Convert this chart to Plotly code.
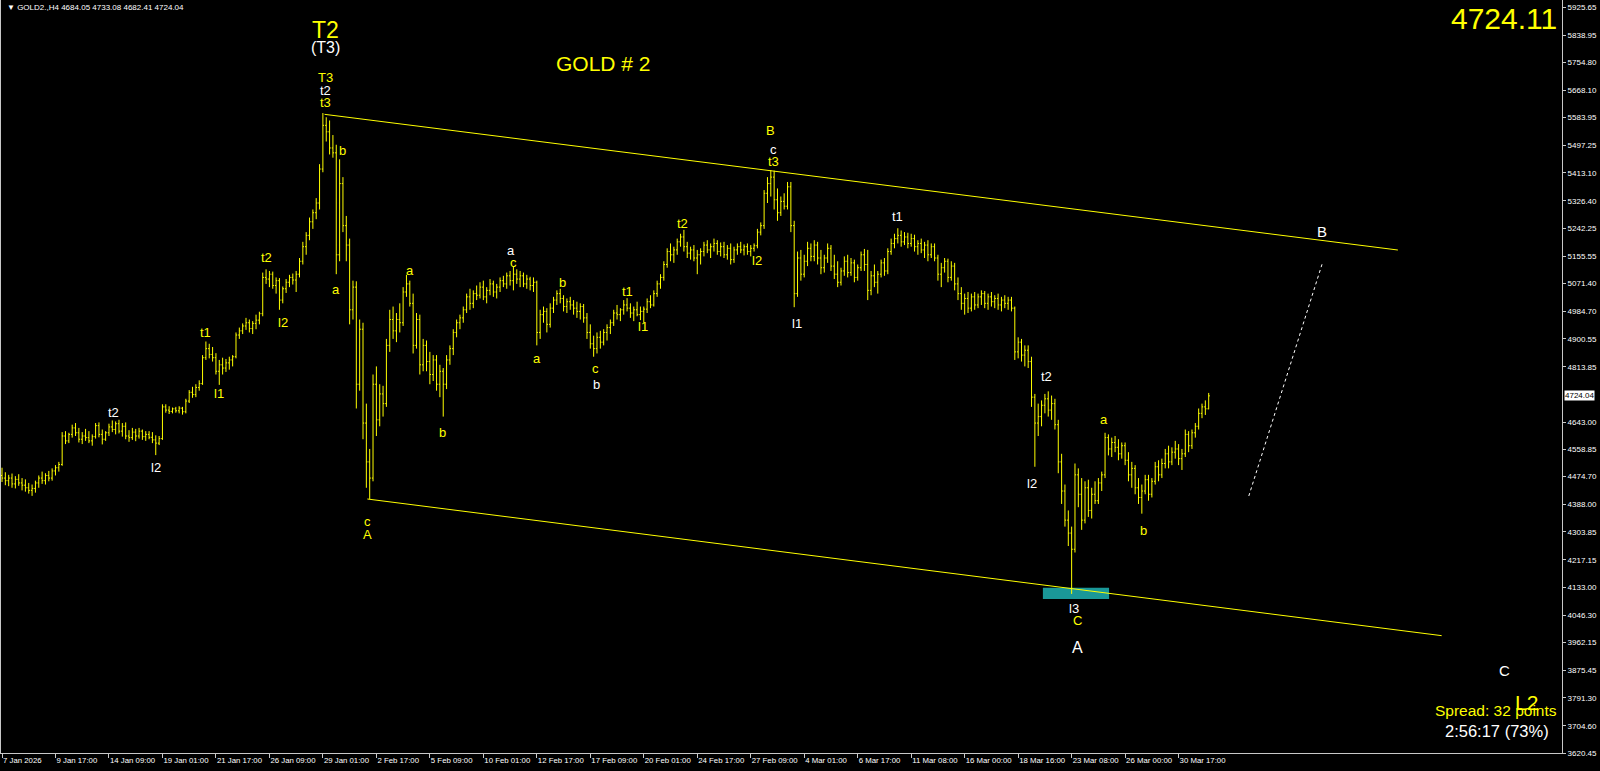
import plotly.graph_objects as go

# ---------------- data (GOLD2., H4) ----------------
opens = [
    4478, 4470, 4462, 4470, 4452, 4466, 4455, 4448, 4440, 4432,
    4438, 4455, 4470, 4462, 4478, 4470, 4492, 4502, 4512, 4600,
    4585, 4605, 4625, 4610, 4590, 4600, 4595, 4585, 4598, 4632,
    4605, 4590, 4610, 4628, 4620, 4638, 4615, 4630, 4600, 4595,
    4612, 4600, 4615, 4598, 4605, 4596, 4588, 4578, 4592, 4690,
    4680, 4676, 4684, 4678, 4686, 4675, 4708, 4735, 4728, 4750,
    4762, 4842, 4870, 4852, 4842, 4800, 4820, 4810, 4826, 4835,
    4845, 4912, 4925, 4940, 4950, 4932, 4948, 4958, 4978, 5090,
    5085, 5100, 5065, 5080, 5020, 5055, 5075, 5090, 5082, 5100,
    5140, 5185, 5220, 5262, 5290, 5320, 5425, 5560, 5540, 5490,
    5475, 5160, 5380, 5250, 5190, 4990, 5060, 4760, 4930, 4640,
    4520, 4470, 4760, 4650, 4730, 4700, 4880, 4960, 4925, 4960,
    4950, 5045, 5070, 5010, 4880, 4960, 4820, 4880, 4830, 4790,
    4835, 4760, 4800, 4760, 4835, 4870, 4920, 4950, 4965, 4990,
    5030, 5010, 5040, 5035, 5060, 5030, 5050, 5070, 5045, 5060,
    5080, 5070, 5095, 5080, 5100, 5085, 5095, 5070, 5085, 5065,
    5075, 4920, 4975, 4985, 4945, 4995, 5020, 5040, 5025, 5000,
    5015, 5005, 4995, 4985, 5000, 4965, 4920, 4885, 4870, 4905,
    4890, 4920, 4935, 4950, 4980, 4975, 4990, 5005, 4995, 4980,
    4990, 4975, 4985, 4992, 5015, 5005, 5040, 5070, 5090, 5130,
    5170, 5160, 5175, 5200, 5215, 5185, 5165, 5175, 5150, 5160,
    5170, 5190, 5175, 5185, 5195, 5170, 5185, 5160, 5180, 5145,
    5175, 5185, 5175, 5185, 5170, 5180, 5188, 5230, 5250, 5350,
    5380, 5400, 5330, 5290, 5325, 5310, 5370, 5250, 5040, 5150,
    5100, 5140, 5180, 5155, 5190, 5150, 5120, 5150, 5180, 5125,
    5100, 5075, 5110, 5140, 5105, 5135, 5090, 5120, 5160, 5130,
    5050, 5095, 5075, 5100, 5135, 5110, 5170, 5195, 5210, 5220,
    5200, 5215, 5195, 5210, 5185, 5195, 5175, 5190, 5160, 5185,
    5150, 5100, 5120, 5140, 5090, 5125, 5070, 5040, 5010, 5025,
    4995, 5030, 5005, 5030, 5040, 5010, 5030, 5015, 5025, 5005,
    5020, 5010, 5020, 4995, 4860, 4890, 4850, 4865, 4830, 4720,
    4640, 4660, 4695, 4715, 4680, 4700, 4635, 4520, 4430, 4340,
    4300, 4250, 4480, 4420, 4340, 4440, 4370, 4420, 4400, 4455,
    4480, 4595, 4560, 4580, 4565, 4545, 4570, 4525, 4480, 4500,
    4440, 4410, 4430, 4465, 4420, 4460, 4505, 4480, 4515, 4545,
    4520, 4550, 4560, 4530, 4545, 4605, 4570, 4610, 4630, 4670,
    4690, 4684.05,
]
highs = [
    4502, 4488, 4480, 4484, 4476, 4482, 4470, 4466, 4455, 4450,
    4462, 4478, 4490, 4485, 4492, 4500, 4510, 4520, 4612, 4615,
    4610, 4635, 4640, 4625, 4612, 4622, 4615, 4605, 4640, 4642,
    4620, 4615, 4638, 4648, 4645, 4650, 4640, 4642, 4618, 4625,
    4622, 4625, 4620, 4615, 4615, 4612, 4602, 4600, 4698, 4698,
    4692, 4688, 4690, 4692, 4690, 4715, 4742, 4752, 4760, 4772,
    4850, 4892, 4885, 4875, 4856, 4835, 4842, 4838, 4845, 4850,
    4920, 4935, 4948, 4965, 4960, 4955, 4975, 4984, 5105, 5115,
    5110, 5108, 5090, 5088, 5062, 5085, 5098, 5102, 5110, 5150,
    5200, 5230, 5275, 5300, 5335, 5440, 5598, 5585, 5575, 5530,
    5500, 5455, 5400, 5280, 5210, 5080, 5078, 4960, 4950, 4700,
    4560, 4790, 4815, 4760, 4755, 4900, 4990, 5000, 4980, 5010,
    5060, 5098, 5080, 5040, 4980, 4975, 4900, 4895, 4860, 4850,
    4850, 4820, 4810, 4850, 4880, 4930, 4960, 4975, 5000, 5040,
    5055, 5050, 5065, 5075, 5080, 5060, 5085, 5080, 5070, 5090,
    5095, 5105, 5110, 5124, 5115, 5110, 5105, 5098, 5092, 5090,
    5080, 4990, 5000, 4995, 5010, 5030, 5050, 5055, 5035, 5025,
    5030, 5020, 5015, 5010, 5008, 4980, 4945, 4910, 4920, 4925,
    4930, 4945, 4960, 4990, 5005, 4995, 5020, 5026, 5010, 5000,
    5015, 5000, 5000, 5025, 5035, 5050, 5080, 5100, 5140, 5180,
    5195, 5185, 5210, 5225, 5237, 5200, 5185, 5190, 5175, 5180,
    5200, 5205, 5195, 5210, 5205, 5198, 5200, 5190, 5195, 5185,
    5195, 5200, 5192, 5195, 5190, 5195, 5240, 5260, 5360, 5400,
    5422, 5420, 5365, 5340, 5350, 5385, 5385, 5265, 5170, 5175,
    5160, 5200, 5195, 5205, 5200, 5175, 5160, 5195, 5190, 5160,
    5140, 5120, 5155, 5160, 5150, 5145, 5130, 5170, 5178, 5175,
    5110, 5130, 5110, 5145, 5150, 5180, 5210, 5225, 5242, 5235,
    5230, 5228, 5225, 5222, 5205, 5210, 5200, 5205, 5195, 5195,
    5160, 5135, 5150, 5148, 5140, 5135, 5090, 5060, 5040, 5045,
    5040, 5045, 5040, 5050, 5048, 5040, 5045, 5035, 5040, 5030,
    5035, 5030, 5030, 5000, 4905, 4900, 4880, 4880, 4845, 4730,
    4700, 4710, 4730, 4738, 4725, 4715, 4650, 4545, 4450, 4370,
    4320, 4515, 4500, 4470, 4460, 4465, 4440, 4460, 4470, 4490,
    4610, 4605, 4595, 4600, 4590, 4580, 4580, 4550, 4520, 4510,
    4470, 4450, 4480, 4480, 4470, 4520, 4525, 4530, 4560, 4570,
    4565, 4585, 4575, 4560, 4620, 4615, 4620, 4640, 4685, 4700,
    4710, 4733.08,
]
lows = [
    4458, 4448, 4445, 4440, 4438, 4446, 4432, 4428, 4422, 4415,
    4425, 4440, 4452, 4450, 4460, 4462, 4478, 4490, 4508, 4575,
    4578, 4595, 4600, 4580, 4575, 4585, 4578, 4570, 4592, 4596,
    4574, 4585, 4600, 4612, 4605, 4608, 4598, 4590, 4582, 4588,
    4584, 4592, 4588, 4585, 4590, 4578, 4541, 4572, 4588, 4672,
    4668, 4670, 4672, 4670, 4666, 4670, 4702, 4718, 4720, 4740,
    4758, 4835, 4840, 4830, 4790, 4758, 4790, 4798, 4805, 4815,
    4840, 4900, 4915, 4928, 4920, 4915, 4930, 4945, 4970, 5070,
    5060, 5055, 5040, 4990, 5010, 5042, 5060, 5068, 5045, 5090,
    5130, 5160, 5205, 5240, 5270, 5300, 5415, 5510, 5470, 5460,
    5100, 5140, 5230, 5140, 4945, 4960, 4685, 4740, 4590, 4440,
    4405, 4460, 4600, 4630, 4660, 4690, 4860, 4900, 4890, 4920,
    4940, 5030, 5000, 4855, 4870, 4790, 4800, 4800, 4760, 4770,
    4740, 4720, 4660, 4745, 4820, 4850, 4905, 4930, 4950, 4980,
    4990, 4995, 5020, 5025, 5020, 5010, 5035, 5030, 5025, 5045,
    5060, 5055, 5065, 5050, 5070, 5060, 5060, 5055, 5050, 5045,
    4880, 4900, 4950, 4920, 4935, 4980, 5005, 5010, 4985, 4980,
    4990, 4975, 4965, 4960, 4950, 4900, 4870, 4845, 4855, 4870,
    4880, 4895, 4915, 4940, 4960, 4955, 4975, 4985, 4965, 4955,
    4970, 4958, 4950, 4980, 4995, 5000, 5030, 5055, 5080, 5120,
    5140, 5135, 5160, 5185, 5170, 5150, 5145, 5140, 5100, 5130,
    5155, 5165, 5150, 5170, 5160, 5155, 5150, 5145, 5130, 5135,
    5160, 5165, 5158, 5160, 5155, 5170, 5180, 5220, 5240, 5320,
    5340, 5300, 5265, 5280, 5300, 5300, 5230, 4998, 5030, 5080,
    5090, 5125, 5140, 5140, 5130, 5100, 5105, 5135, 5110, 5085,
    5060, 5065, 5095, 5090, 5095, 5075, 5080, 5110, 5110, 5020,
    5035, 5060, 5040, 5090, 5095, 5100, 5160, 5180, 5195, 5185,
    5190, 5180, 5185, 5170, 5160, 5165, 5150, 5140, 5150, 5140,
    5080, 5060, 5105, 5075, 5080, 5050, 5020, 4990, 4975, 4980,
    4985, 4990, 4995, 5005, 4995, 4990, 5000, 4995, 4990, 4985,
    4995, 4990, 4985, 4835, 4840, 4830, 4815, 4810, 4690, 4505,
    4600, 4630, 4670, 4660, 4650, 4620, 4485, 4390, 4320, 4260,
    4112, 4240, 4380, 4310, 4330, 4350, 4345, 4390, 4390, 4430,
    4470, 4540, 4535, 4550, 4525, 4530, 4510, 4460, 4440, 4420,
    4390, 4360, 4420, 4400, 4410, 4450, 4460, 4470, 4500, 4500,
    4510, 4530, 4510, 4495, 4535, 4550, 4560, 4595, 4620, 4655,
    4665, 4682.41,
]
closes = [
    4470, 4462, 4470, 4452, 4466, 4455, 4448, 4440, 4432, 4438,
    4455, 4470, 4462, 4478, 4470, 4492, 4502, 4512, 4600, 4585,
    4605, 4625, 4610, 4590, 4600, 4595, 4585, 4598, 4632, 4605,
    4590, 4610, 4628, 4620, 4638, 4615, 4630, 4600, 4595, 4612,
    4600, 4615, 4598, 4605, 4596, 4588, 4578, 4592, 4690, 4680,
    4676, 4684, 4678, 4686, 4675, 4708, 4735, 4728, 4750, 4762,
    4842, 4870, 4852, 4842, 4800, 4820, 4810, 4826, 4835, 4845,
    4912, 4925, 4940, 4950, 4932, 4948, 4958, 4978, 5090, 5085,
    5100, 5065, 5080, 5020, 5055, 5075, 5090, 5082, 5100, 5140,
    5185, 5220, 5262, 5290, 5320, 5425, 5560, 5540, 5490, 5475,
    5160, 5380, 5250, 5190, 4990, 5060, 4760, 4930, 4640, 4520,
    4470, 4760, 4650, 4730, 4700, 4880, 4960, 4925, 4960, 4950,
    5045, 5070, 5010, 4880, 4960, 4820, 4880, 4830, 4790, 4835,
    4760, 4800, 4760, 4835, 4870, 4920, 4950, 4965, 4990, 5030,
    5010, 5040, 5035, 5060, 5030, 5050, 5070, 5045, 5060, 5080,
    5070, 5095, 5080, 5100, 5085, 5095, 5070, 5085, 5065, 5075,
    4920, 4975, 4985, 4945, 4995, 5020, 5040, 5025, 5000, 5015,
    5005, 4995, 4985, 5000, 4965, 4920, 4885, 4870, 4905, 4890,
    4920, 4935, 4950, 4980, 4975, 4990, 5005, 4995, 4980, 4990,
    4975, 4985, 4992, 5015, 5005, 5040, 5070, 5090, 5130, 5170,
    5160, 5175, 5200, 5215, 5185, 5165, 5175, 5150, 5160, 5170,
    5190, 5175, 5185, 5195, 5170, 5185, 5160, 5180, 5145, 5175,
    5185, 5175, 5185, 5170, 5180, 5188, 5230, 5250, 5350, 5380,
    5400, 5330, 5290, 5325, 5310, 5370, 5250, 5040, 5150, 5100,
    5140, 5180, 5155, 5190, 5150, 5120, 5150, 5180, 5125, 5100,
    5075, 5110, 5140, 5105, 5135, 5090, 5120, 5160, 5130, 5050,
    5095, 5075, 5100, 5135, 5110, 5170, 5195, 5210, 5220, 5200,
    5215, 5195, 5210, 5185, 5195, 5175, 5190, 5160, 5185, 5150,
    5100, 5120, 5140, 5090, 5125, 5070, 5040, 5010, 5025, 4995,
    5030, 5005, 5030, 5040, 5010, 5030, 5015, 5025, 5005, 5020,
    5010, 5020, 4995, 4860, 4890, 4850, 4865, 4830, 4720, 4640,
    4660, 4695, 4715, 4680, 4700, 4635, 4520, 4430, 4340, 4300,
    4250, 4480, 4420, 4340, 4440, 4370, 4420, 4400, 4455, 4480,
    4595, 4560, 4580, 4565, 4545, 4570, 4525, 4480, 4500, 4440,
    4410, 4430, 4465, 4420, 4460, 4505, 4480, 4515, 4545, 4520,
    4550, 4560, 4530, 4545, 4605, 4570, 4610, 4630, 4670, 4690,
    4684.05, 4724.04,
]
bar_index = list(range(len(closes)))

# time axis labels (one every 16 H4 bars)
x_tick_labels = [
    "7 Jan 2026", "9 Jan 17:00", "14 Jan 09:00", "19 Jan 01:00", "21 Jan 17:00",
    "26 Jan 09:00", "29 Jan 01:00", "2 Feb 17:00", "5 Feb 09:00", "10 Feb 01:00",
    "12 Feb 17:00", "17 Feb 09:00", "20 Feb 01:00", "24 Feb 17:00", "27 Feb 09:00",
    "4 Mar 01:00", "6 Mar 17:00", "11 Mar 08:00", "16 Mar 00:00", "18 Mar 16:00",
    "23 Mar 08:00", "26 Mar 00:00", "30 Mar 17:00",
]
x_tick_bars = [16 * k for k in range(len(x_tick_labels))]

# price axis labels
y_tick_values = [
    5925.65, 5838.95, 5754.80, 5668.10, 5583.95, 5497.25, 5413.10, 5326.40,
    5242.25, 5155.55, 5071.40, 4984.70, 4900.55, 4813.85, 4643.00, 4558.85,
    4474.70, 4388.00, 4303.85, 4217.15, 4133.00, 4046.30, 3962.15, 3875.45,
    3791.30, 3704.60, 3620.45,
]
y_tick_labels = ["%.2f" % v for v in y_tick_values]

last_price = 4724.04
ask_price = 4724.11
header_text = "\u25bc GOLD2.,H4 4684.05 4733.08 4682.41 4724.04"

# drawn objects (bar index, price)
upper_channel = ([96.5, 417.6], [5594.0, 5174.7])
lower_channel = ([109.3, 430.7], [4405.3, 3983.0])
projection = ([373.0, 395.0], [4414.6, 5133.6])
support_box = (311.4, 331.2, 4096.3, 4130.9)

YEL = "#FFFF00"
WHT = "#FFFFFF"

# wave labels: text, bar index, price, colour, size
wave_labels = [
    ("T2", 96.8, 5856, YEL, 23), ("(T3)", 96.8, 5799, WHT, 16),
    ("T3", 96.8, 5707, YEL, 13), ("t2", 96.8, 5667, WHT, 13), ("t3", 96.8, 5632, YEL, 13),
    ("b", 102.0, 5481, YEL, 13), ("a", 99.8, 5052, YEL, 13),
    ("c", 109.3, 4336, YEL, 13), ("A", 109.3, 4295, YEL, 13),
    ("t2", 33.3, 4673, WHT, 13), ("l2", 46.1, 4503, WHT, 13),
    ("t1", 60.8, 4919, YEL, 13), ("l1", 65.0, 4730, YEL, 13),
    ("t2", 79.0, 5153, YEL, 13), ("l2", 84.0, 4951, YEL, 13),
    ("a", 122.0, 5112, YEL, 13), ("b", 131.9, 4610, YEL, 13),
    ("a", 152.3, 5172, WHT, 13), ("c", 153.0, 5137, YEL, 13),
    ("a", 160.0, 4840, YEL, 13), ("b", 167.6, 5074, YEL, 13),
    ("c", 177.7, 4809, YEL, 13), ("b", 178.0, 4758, WHT, 13),
    ("t1", 187.2, 5045, YEL, 13), ("l1", 191.7, 4938, YEL, 13),
    ("t2", 203.6, 5257, YEL, 13), ("l2", 225.9, 5143, YEL, 13),
    ("B", 229.9, 5544, YEL, 13), ("c", 230.8, 5484, WHT, 13), ("t3", 230.8, 5449, YEL, 13),
    ("l1", 237.8, 4948, WHT, 13), ("t1", 267.8, 5279, WHT, 13),
    ("t2", 312.6, 4784, WHT, 13), ("l2", 308.0, 4453, WHT, 13),
    ("l3", 320.6, 4068, WHT, 13), ("C", 321.8, 4030, YEL, 13),
    ("A", 321.8, 3948, WHT, 16),
    ("a", 329.7, 4651, YEL, 13), ("b", 341.6, 4308, YEL, 13),
    ("B", 395.0, 5232, WHT, 15), ("C", 449.6, 3876, WHT, 15),
    ("L2", 456.0, 3778, YEL, 21),
    ("GOLD # 2", 180.0, 5751, YEL, 21),
]

FONT = "Liberation Sans, Arial, sans-serif"

fig = go.Figure()

fig.add_shape(type="rect", xref="x", yref="y",
              x0=support_box[0], x1=support_box[1], y0=support_box[2], y1=support_box[3],
              fillcolor="#1a9898", line=dict(width=0), layer="below")

fig.add_trace(go.Ohlc(
    x=bar_index, open=opens, high=highs, low=lows, close=closes,
    increasing=dict(line=dict(color=YEL, width=1)),
    decreasing=dict(line=dict(color=YEL, width=1)),
    tickwidth=0.35, hoverinfo="skip",
))

for xs, ys in (upper_channel, lower_channel):
    fig.add_trace(go.Scatter(x=xs, y=ys, mode="lines",
                             line=dict(color=YEL, width=1), hoverinfo="skip"))
fig.add_trace(go.Scatter(x=projection[0], y=projection[1], mode="lines",
                         line=dict(color=WHT, width=1, dash="dot"), hoverinfo="skip"))

ann = []
for t, xi, pr, col, sz in wave_labels:
    ann.append(dict(x=xi, y=pr, xref="x", yref="y", text=t, showarrow=False,
                    font=dict(color=col, size=sz, family=FONT)))

ann.append(dict(x=0, y=1, xref="paper", yref="paper", xanchor="left", yanchor="top",
                xshift=4, yshift=-1, text=header_text, showarrow=False,
                font=dict(color=WHT, size=8, family=FONT)))
ann.append(dict(x=1, y=1, xref="paper", yref="paper", xanchor="right", yanchor="top",
                xshift=-3, yshift=0, text="%.2f" % ask_price, showarrow=False,
                font=dict(color=YEL, size=30, family=FONT)))
ann.append(dict(x=1, y=0, xref="paper", yref="paper", xanchor="right", yanchor="bottom",
                xshift=-3, yshift=32, text="Spread: 32 points", showarrow=False,
                font=dict(color=YEL, size=15.5, family=FONT)))
ann.append(dict(x=1, y=0, xref="paper", yref="paper", xanchor="right", yanchor="bottom",
                xshift=-11, yshift=11, text="2:56:17 (73%)", showarrow=False,
                font=dict(color=WHT, size=16.5, family=FONT)))
ann.append(dict(x=1, y=last_price, xref="paper", yref="y", xanchor="left",
                xshift=2, text="%.2f" % last_price, showarrow=False,
                bgcolor=WHT, borderpad=0, font=dict(color="#000000", size=8, family=FONT)))

fig.update_layout(
    template="none",
    width=1600, height=771,
    margin=dict(l=1, r=38, t=0, b=18, pad=0),
    paper_bgcolor="#000000", plot_bgcolor="#000000",
    showlegend=False, hovermode=False,
    annotations=ann,
    xaxis=dict(range=[-0.3, 466.7], rangeslider=dict(visible=False),
               showgrid=False, zeroline=False, showline=True, linecolor="#c8c8c8",
               linewidth=1, ticks="outside", ticklen=4, tickcolor="#c8c8c8",
               tickvals=x_tick_bars, ticktext=x_tick_labels, tickangle=0,
               ticklabelposition="outside right",
               tickfont=dict(color=WHT, size=7.8, family=FONT), automargin=False),
    yaxis=dict(range=[3620.45, 5947.28], side="right",
               showgrid=False, zeroline=False, showline=True, linecolor="#c8c8c8",
               linewidth=1, mirror=True, ticks="outside", ticklen=3, tickcolor="#c8c8c8",
               tickvals=y_tick_values, ticktext=y_tick_labels,
               tickfont=dict(color=WHT, size=8, family=FONT), automargin=False),
)

fig.write_html("out.html", config={"displayModeBar": False, "staticPlot": True},
               post_script="document.body.style.margin='0';document.body.style.overflow='hidden';")
